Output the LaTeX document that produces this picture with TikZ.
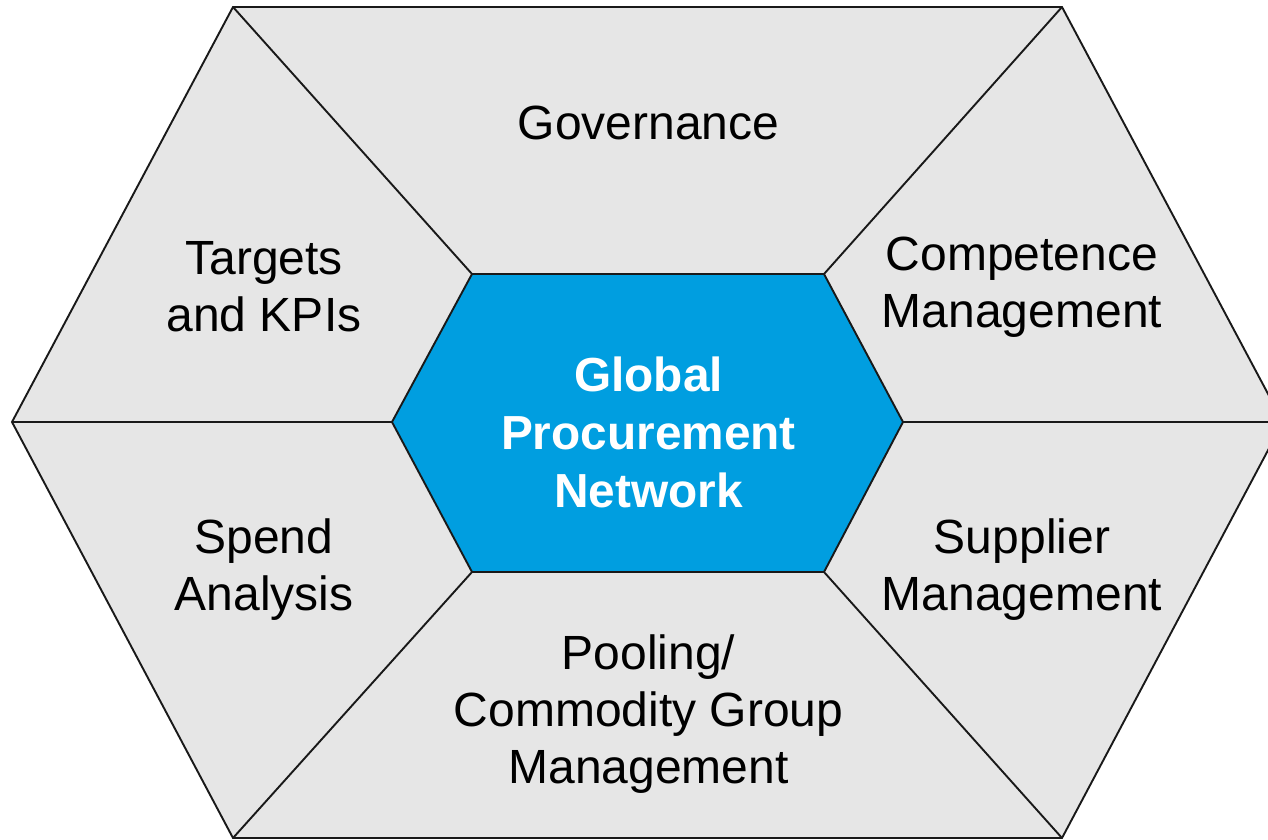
\documentclass[tikz,border=0pt]{standalone}
\usepackage{fontspec}
\setmainfont{Liberation Sans}
\definecolor{panelgrey}{HTML}{E6E6E6}
\definecolor{hubblue}{HTML}{009EE0}
\begin{document}
\begin{tikzpicture}[x=1pt,y=-1pt,
  edge/.style={draw=black!90,line width=1.9pt},
  label/.style={align=center,text=black,font=\fontsize{48}{57}\selectfont,inner sep=0pt},
  hublabel/.style={align=center,text=white,font=\fontsize{47.8}{58}\selectfont\bfseries,inner sep=0pt}]
\useasboundingbox (0,0) rectangle (1268,839);
\clip (0,0) rectangle (1268,839);
% outer hexagon corners
\coordinate (o1) at (233,7);
\coordinate (o2) at (1062,7);
\coordinate (o3) at (1283,422);
\coordinate (o4) at (1062,838);
\coordinate (o5) at (233,838);
\coordinate (o6) at (12,422);
% inner hexagon corners
\coordinate (i1) at (472,274);
\coordinate (i2) at (824,274);
\coordinate (i3) at (903,422);
\coordinate (i4) at (824,572);
\coordinate (i5) at (472,572);
\coordinate (i6) at (392,422);
% panels
\fill[panelgrey] (o1) -- (o2) -- (o3) -- (o4) -- (o5) -- (o6) -- cycle;
\draw[edge,line join=miter] (o1) -- (o2) -- (o3) -- (o4) -- (o5) -- (o6) -- cycle;
% spokes between the two hexagons
\foreach \k in {1,...,6} { \draw[edge] (o\k) -- (i\k); }
% central hub
\draw[edge,fill=hubblue,line join=miter] (i1) -- (i2) -- (i3) -- (i4) -- (i5) -- (i6) -- cycle;
% labels
\node[label] (gov) at (648.5,123) {Governance};
\node[label] (kpi) at (264,287) {Targets\\and KPIs};
\node[label] (comp) at (1022,287) {Competence\\Management};
\node[label] (spend) at (264,570) {Spend\\Analysis};
\node[label] (supp) at (1022,570) {Supplier\\Management};
\node[label] (pool) at (648.5,714) {Pooling/\\Commodity Group\\Management};
\node[hublabel] (hub) at (648.5,432) {Global\\Procurement\\Network};
\end{tikzpicture}
\end{document}
